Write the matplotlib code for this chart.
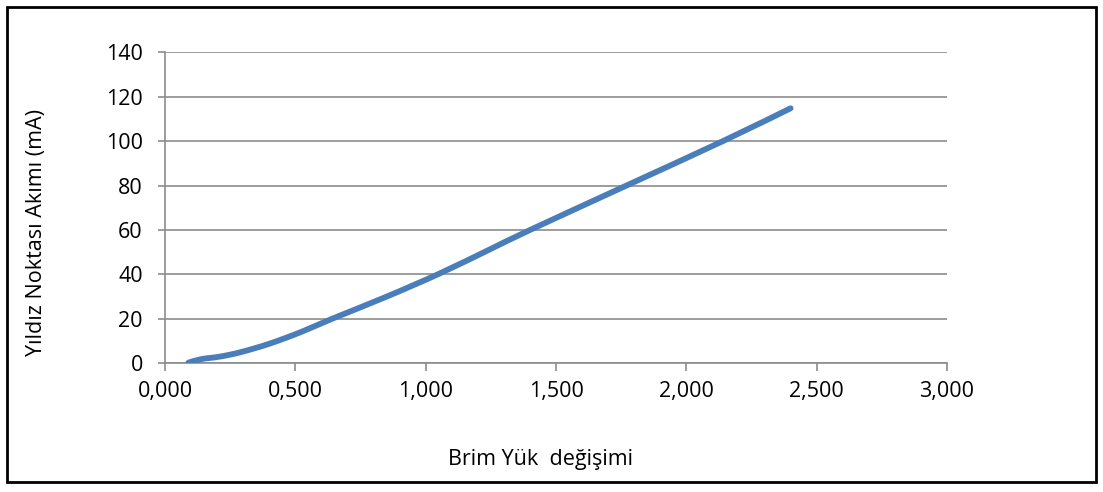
import matplotlib
matplotlib.use("Agg")
import matplotlib.pyplot as plt
from matplotlib.patches import Rectangle, PathPatch
from matplotlib.path import Path
import numpy as np

# Load change vs. star-point current
load_change = [0.09, 0.14, 0.21, 0.29, 0.40, 0.52, 0.64, 0.85, 1.055, 1.25, 1.40, 1.77, 2.14, 2.40]
star_current = [0.3, 1.9, 3.0, 5.0, 8.8, 14.0, 20.0, 30.0, 40.5, 51.5, 60.0, 80.0, 100.0, 114.8]

x_ticks = [0.0, 0.5, 1.0, 1.5, 2.0, 2.5, 3.0]
x_tick_labels = ["0,000", "0,500", "1,000", "1,500", "2,000", "2,500", "3,000"]
y_ticks = [0, 20, 40, 60, 80, 100, 120, 140]

plt.rcParams["font.family"] = ["Open Sans", "DejaVu Sans"]

W, H = 1103, 492
fig = plt.figure(figsize=(W / 100, H / 100), dpi=100)
ax = fig.add_axes([165 / W, 1 - 363.3 / H, 782 / W, 311 / H])

ax.set_xlim(0, 3.0)
ax.set_ylim(0, 140)


def smooth_path(xs, ys, ax):
    """Catmull-Rom style smoothed line through the points (in display space)."""
    pts = ax.transData.transform(np.column_stack([xs, ys]))
    verts = [pts[0]]
    codes = [Path.MOVETO]
    n = len(pts)
    for i in range(n - 1):
        p0 = pts[i - 1] if i > 0 else pts[i]
        p1 = pts[i]
        p2 = pts[i + 1]
        p3 = pts[i + 2] if i + 2 < n else pts[i + 1]
        c1 = p1 + (p2 - p0) / 6.0
        c2 = p2 - (p3 - p1) / 6.0
        verts += [c1, c2, p2]
        codes += [Path.CURVE4] * 3
    return Path(ax.transData.inverted().transform(np.array(verts)), codes)


curve = PathPatch(smooth_path(load_change, star_current, ax), fill=False,
                  edgecolor="#4a7ebb", lw=4.2, capstyle="round",
                  joinstyle="round", transform=ax.transData, zorder=3)
ax.add_patch(curve)

ax.set_xticks(x_ticks)
ax.set_xticklabels(x_tick_labels)
ax.set_yticks(y_ticks)

grid_c = "#8c8c8c"
ax.yaxis.grid(True, color=grid_c, lw=1.2)
ax.set_axisbelow(True)
for side in ("top", "right"):
    ax.spines[side].set_visible(False)
for side in ("left", "bottom"):
    ax.spines[side].set_color(grid_c)
    ax.spines[side].set_linewidth(1.2)
ax.tick_params(axis="both", direction="out", width=1.2,
               color=grid_c, labelsize=15.5, labelcolor="black")
ax.tick_params(axis="x", length=6, pad=7)
ax.tick_params(axis="y", length=5, pad=11)

ax.set_xlabel("Brim Yük  değişimi", fontsize=15.5, va="center")
ax.xaxis.set_label_coords((540 - 165) / 782, (363.3 - 460) / 311)
ax.set_ylabel("Yıldız Noktası Akımı (mA)", fontsize=15.5, va="center")
ax.yaxis.set_label_coords((37 - 165) / 782, (363.3 - 232) / 311)

# Outer chart frame
fig.patches.append(Rectangle((7 / W, 1 - 482 / H), 1089 / W, 475 / H,
                             transform=fig.transFigure, fill=False,
                             edgecolor="black", lw=2))

fig.savefig("out.png", dpi=100)
